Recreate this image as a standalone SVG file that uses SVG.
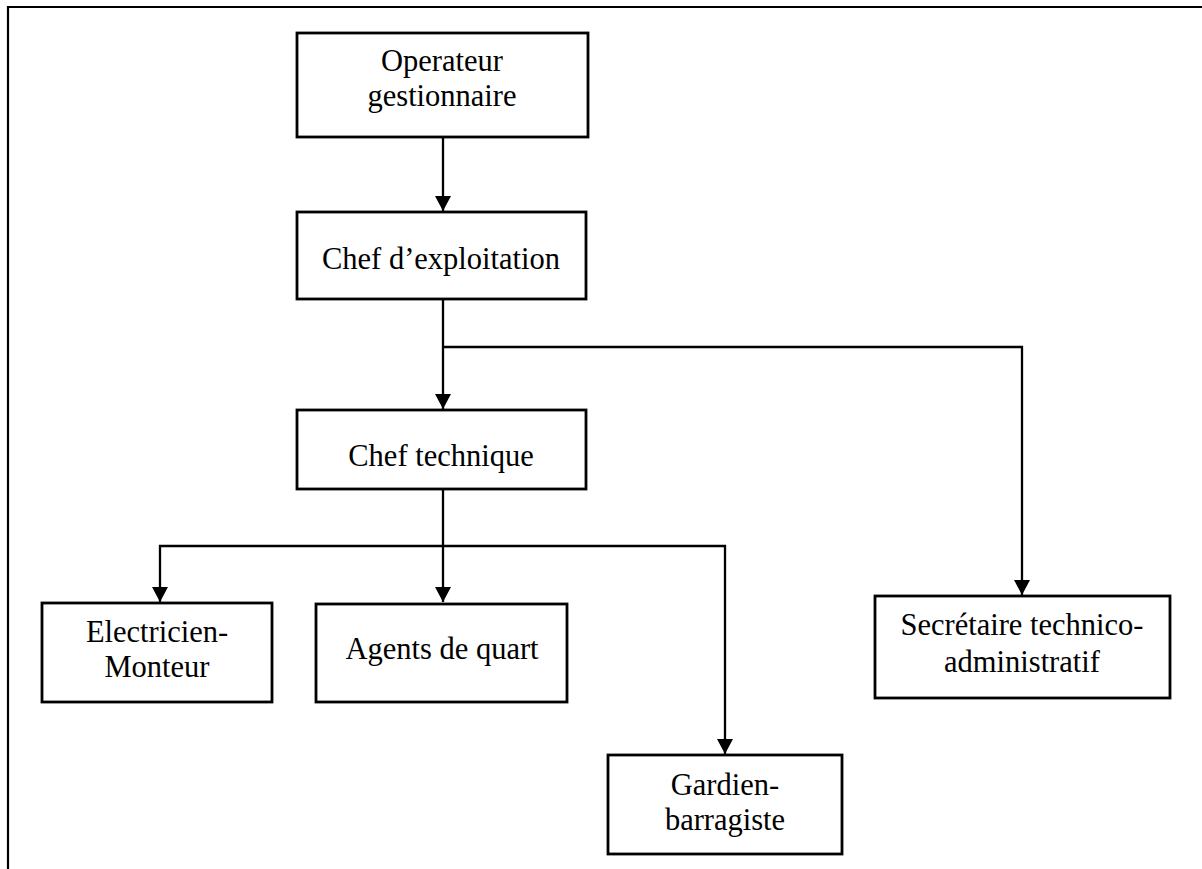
<svg xmlns="http://www.w3.org/2000/svg" width="1202" height="869" viewBox="0 0 1202 869">
<style>
.box{fill:#fff;stroke:#000;stroke-width:2.8}
.lbl{font-family:"Liberation Serif","Times New Roman",serif;font-size:30.5px;fill:#000;text-anchor:middle}
.con{fill:none;stroke:#000;stroke-width:2.3}
.frame{fill:none;stroke:#000;stroke-width:2.2}
</style>
<defs>
<marker id="ah" viewBox="0 0 15 16" markerWidth="15" markerHeight="16" refX="15" refY="8" orient="auto" markerUnits="userSpaceOnUse">
<path d="M0,0 L15,8 L0,16 z" fill="#000"/>
</marker>
</defs>
<rect width="1202" height="869" fill="#fff"/>
<path class="frame" d="M8,869 V7 H1202"/>
<g id="connectors">
<path class="con" d="M443,137 V211" marker-end="url(#ah)"/>
<path class="con" d="M443,299 V409" marker-end="url(#ah)"/>
<path class="con" d="M443,347 H1022 V595" marker-end="url(#ah)"/>
<path class="con" d="M443,489 V602" marker-end="url(#ah)"/>
<path class="con" d="M443,546 H160 V602" marker-end="url(#ah)"/>
<path class="con" d="M443,546 H725 V754" marker-end="url(#ah)"/>
</g>
<g id="operateur">
<rect class="box" x="297" y="33" width="291" height="104"/>
<text class="lbl" x="442" y="71">Operateur</text>
<text class="lbl" x="442" y="106">gestionnaire</text>
</g>
<g id="chef-exploitation">
<rect class="box" x="297" y="212" width="289" height="87"/>
<text class="lbl" x="441" y="269">Chef d’exploitation</text>
</g>
<g id="chef-technique">
<rect class="box" x="297" y="410" width="289" height="79"/>
<text class="lbl" x="441" y="466">Chef technique</text>
</g>
<g id="electricien">
<rect class="box" x="42" y="603" width="230" height="99"/>
<text class="lbl" x="157" y="642">Electricien-</text>
<text class="lbl" x="157" y="677">Monteur</text>
</g>
<g id="agents">
<rect class="box" x="316" y="604" width="251" height="98"/>
<text class="lbl" x="442" y="659">Agents de quart</text>
</g>
<g id="gardien">
<rect class="box" x="608" y="755" width="234" height="99"/>
<text class="lbl" x="725" y="795">Gardien-</text>
<text class="lbl" x="725" y="830">barragiste</text>
</g>
<g id="secretaire">
<rect class="box" x="875" y="596" width="295" height="102"/>
<text class="lbl" x="1022" y="635">Secrétaire technico-</text>
<text class="lbl" x="1022" y="672">administratif</text>
</g>
</svg>
